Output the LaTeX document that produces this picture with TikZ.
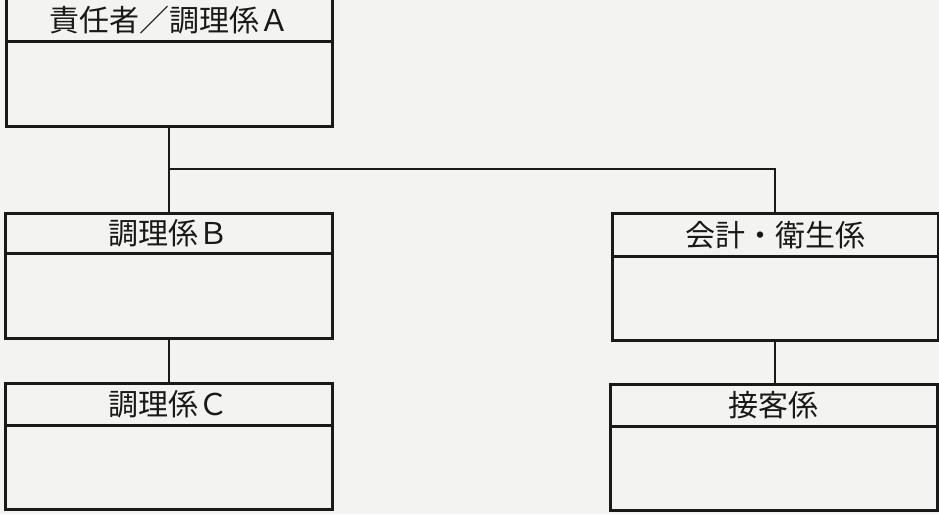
\documentclass[tikz,border=0pt]{standalone}
\usepackage{fontspec}
\newfontfamily\jp{Noto Sans CJK JP}
\definecolor{paper}{RGB}{243,243,241}
\definecolor{ink}{RGB}{25,25,25}
\begin{document}
\begin{tikzpicture}[x=1pt,y=-1pt,
  hd/.style={draw=ink, line width=2.6pt, minimum width=327pt, minimum height=42pt,
    inner sep=0pt, anchor=north west, font=\jp\fontsize{30}{30}\selectfont, text=ink},
  bd/.style={draw=ink, line width=2.6pt, minimum width=327pt, minimum height=85pt,
    inner sep=0pt, anchor=north west},
  ln/.style={draw=ink, line width=2.2pt}]
\fill[paper] (0,0) rectangle (939,514);
\useasboundingbox (0,0) rectangle (939,514);
\begin{scope}
\clip (0,0) rectangle (939,514);
% boxes
\node[hd, minimum height=43pt, minimum width=326pt] (Ah) at (5,-3) {責任者／調理係Ａ};
\node[bd, minimum width=326pt] (Ab) at (5,40) {};
\node[hd, minimum height=40pt] (Bh) at (4,212) {調理係Ｂ};
\node[bd] (Bb) at (4,252) {};
\node[hd] (Ch) at (4,382) {調理係Ｃ};
\node[bd, minimum height=84pt] (Cb) at (4,424) {};
\node[hd, minimum height=43pt, minimum width=326pt] (Dh) at (611,212) {会計・衛生係};
\node[bd, minimum height=84pt, minimum width=326pt] (Db) at (611,255) {};
\node[hd] (Eh) at (609,383) {接客係};
\node[bd, minimum height=84pt] (Eb) at (609,425) {};
% connectors
\coordinate (J) at (168,169);
\draw[ln] (Ab.south) -- (Ab.south |- Bh.north);
\draw[ln] (J) -| (Dh.north);
\draw[ln] (Bb.south) -- (Bb.south |- Ch.north);
\draw[ln] (Db.south) -- (Db.south |- Eh.north);
\end{scope}
\end{tikzpicture}
\end{document}
